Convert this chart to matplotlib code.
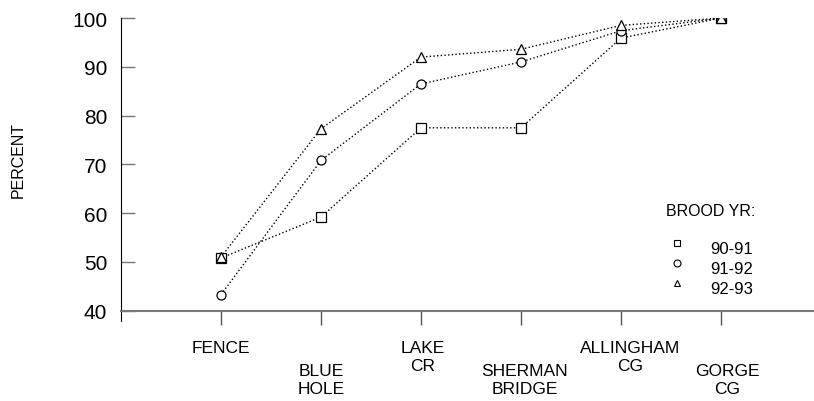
import matplotlib.pyplot as plt
from matplotlib.lines import Line2D
from matplotlib.legend_handler import HandlerLine2D

plt.rcParams['font.family'] = ['Liberation Sans', 'DejaVu Sans']

# sites along the river and their multi-line labels
sites = ["FENCE", "BLUE\nHOLE", "LAKE\nCR", "SHERMAN\nBRIDGE", "ALLINGHAM\nCG", "GORGE\nCG"]
label_drop = [0, 1, 0, 1, 0, 1]      # staggered label rows
label_shift = [0, 0, 2, 4, 9, 6]     # small sideways nudges (pixels)

brood_years = ["90-91", "91-92", "92-93"]
pct_9091 = [50.8, 59.2, 77.5, 77.5, 95.9, 100.0]
pct_9192 = [43.3, 70.8, 86.5, 91.0, 97.4, 100.0]
pct_9293 = [51.0, 77.3, 92.0, 93.6, 98.5, 100.0]
markers = ["s", "o", "^"]


class RaisedHandler(HandlerLine2D):
    # legend symbols sit a little above the text line
    def create_artists(self, legend, orig_handle, xdescent, ydescent,
                       width, height, fontsize, trans):
        arts = super().create_artists(legend, orig_handle, xdescent, ydescent,
                                      width, height, fontsize, trans)
        for a in arts:
            a.set_ydata([y + 0.4 * height for y in a.get_ydata()])
        return arts


fig = plt.figure(figsize=(8.14, 4.02), dpi=100)
ax = fig.add_axes([0.1486, 0.2246, 0.8514, 0.728])

x = list(range(1, len(sites) + 1))
for vals, m in zip([pct_9091, pct_9192, pct_9293], markers):
    ax.plot(x, vals, linestyle=':', color='black', linewidth=1.0,
            marker=m, markersize=6.5, markerfacecolor='white',
            markeredgecolor='black', markeredgewidth=0.9)

ax.set_xlim(0, 6.93)
ax.set_ylim(40, 100)
ax.set_xticks(x)
ax.set_yticks([40, 50, 60, 70, 80, 90, 100])
ax.tick_params(axis='y', direction='in', length=10, width=1, color='#777777',
               labelsize=15, pad=10)
ax.tick_params(axis='x', direction='out', length=10, width=1, color='#555555',
               labelbottom=False)

ax.spines['top'].set_visible(False)
ax.spines['right'].set_visible(False)
ax.spines['left'].set_color('black')
ax.spines['left'].set_bounds(37.9, 100)
ax.spines['bottom'].set_color('#777777')
ax.spines['bottom'].set_linewidth(1.5)

# staggered site labels under the axis
for xi, name, drop, dx in zip(x, sites, label_drop, label_shift):
    ax.annotate(name, xy=(xi, 40), xycoords='data',
                xytext=(dx, -29 - 23 * drop), textcoords='offset pixels',
                ha='center', va='top', multialignment='center',
                fontsize=12.5, linespacing=1.3, annotation_clip=False)

fig.text(0.023, 0.602, "PERCENT", rotation=90, ha='center', va='center', fontsize=11.5)

handles = [Line2D([], [], linestyle='none', marker=m, markersize=5,
                  markerfacecolor='white', markeredgecolor='black', markeredgewidth=0.8)
           for m in markers]
leg = ax.legend(handles, brood_years, title="BROOD YR:\n", frameon=False,
                loc='upper left', bbox_to_anchor=(0.775, 0.396),
                fontsize=12, title_fontsize=11.5, handlelength=1.0,
                handletextpad=1.5, labelspacing=0.3, borderpad=0,
                handler_map={Line2D: RaisedHandler()})
leg.get_title().set_linespacing(1.27)

fig.savefig("out.png", dpi=100)
